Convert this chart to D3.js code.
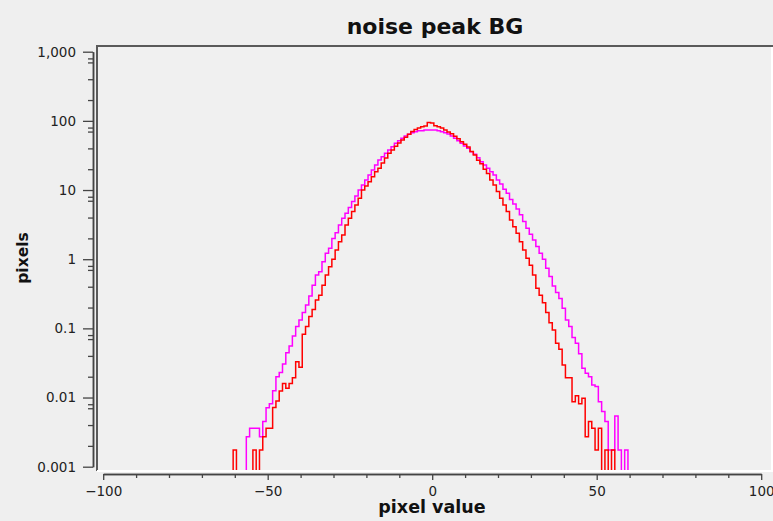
<!DOCTYPE html>
<html>
<head>
<meta charset="utf-8">
<script src="https://cdnjs.cloudflare.com/ajax/libs/d3/7.8.5/d3.min.js"></script>
<style>
body { margin: 0; background: #efefef; }
svg text { font-family: "DejaVu Sans", sans-serif; }
</style>
</head>
<body>
<svg id="chart" width="773" height="521"></svg>
<script>
// histogram bins, 1 unit wide, centred on -60 .. 60
var FirstBin = -60;

var RedCounts = [
    0.00175, 0, 0, 0, 0, 0, 0.00175, 0, 0.00175, 0.0027,
    0.0036, 0.0036, 0.0072, 0.0089, 0.0124, 0.016, 0.0136, 0.016, 0.0194, 0.033,
    0.0273, 0.082, 0.106, 0.148, 0.188, 0.257, 0.30, 0.42, 0.59, 0.78,
    1.0, 1.36, 1.79, 2.24, 3.12, 3.9, 4.9, 6.1, 7.6, 10.0,
    11.4, 13.2, 15.6, 18.4, 20.6, 24.5, 29, 34, 38, 43,
    48, 53, 58, 64, 70, 75, 79, 82, 84, 95,
    93, 85, 82, 79, 74, 69, 65, 60, 55, 50,
    46, 42, 36, 32, 27, 24, 20, 17.4, 14, 11.8,
    9.5, 7.6, 6.1, 4.9, 3.7, 2.95, 2.37, 1.79, 1.36, 1.03,
    0.82, 0.59, 0.38, 0.30, 0.235, 0.169, 0.121, 0.095, 0.061, 0.050,
    0.0295, 0.0194, 0.0194, 0.0087, 0.0106, 0.0081, 0.0098, 0.0027, 0.0045, 0.0036,
    0.00175, 0.0036, 0, 0.00175, 0, 0.00175, 0, 0, 0, 0, 0
];

var MagentaCounts = [
    0, 0, 0, 0, 0.0027, 0.0036, 0.0036, 0.0036, 0.0027, 0.0045,
    0.0071, 0.0081, 0.0125, 0.020, 0.0231, 0.0305, 0.0445, 0.0556, 0.0776, 0.106,
    0.132, 0.169, 0.218, 0.294, 0.42, 0.59, 0.66, 0.92, 1.22, 1.44,
    2.0, 2.42, 3.12, 3.9, 4.6, 5.6, 6.8, 8.2, 10, 11.8,
    14, 16.5, 19.5, 23, 27.2, 30.3, 34, 37.9, 42.4, 47.3,
    51.7, 55.9, 60.4, 63.8, 67.5, 69.8, 72.2, 72.2, 73.8, 73.8,
    73.8, 73.8, 72.2, 69.8, 67.5, 64.5, 60.4, 55.9, 51.7, 47.3,
    43.4, 40.1, 35.9, 32.8, 29.4, 25.7, 23, 20.6, 18.4, 16.5,
    14, 12.2, 10.3, 9.0, 7.3, 6.3, 5.3, 4.4, 3.5, 2.8,
    2.3, 1.9, 1.52, 1.22, 0.995, 0.74, 0.56, 0.41, 0.33, 0.27,
    0.195, 0.132, 0.106, 0.074, 0.061, 0.043, 0.0264, 0.0224, 0.020, 0.0152,
    0.0144, 0.0087, 0.0063, 0.0045, 0.00175, 0.00175, 0.0054, 0.00175, 0, 0.00175, 0
];

var XTicks = [-100, -50, 0, 50, 100];
var XMinorTicks = [-90, -80, -70, -60, -40, -30, -20, -10, 10, 20, 30, 40, 60, 70, 80, 90];
var YTicks = [0.001, 0.01, 0.1, 1, 10, 100, 1000];
var YTickLabels = ["0.001", "0.01", "0.1", "1", "10", "100", "1,000"];
var YMinorSteps = [2, 4, 7, 8];

var svg = d3.select("#chart");

var PlotLeft = 97, PlotTop = 46, PlotRight = 772, PlotBottom = 471;

var x = d3.scaleLinear().domain([-100, 100]).range([103.2, 761.2]);
var y = d3.scaleLog().domain([0.001, 1000]).range([466.7, 51.7]);

// plot area with sunken border
svg.append("rect")
    .attr("x", PlotLeft).attr("y", PlotTop)
    .attr("width", PlotRight - PlotLeft).attr("height", PlotBottom - PlotTop)
    .attr("fill", "#f0f0f0");

svg.append("clipPath").attr("id", "plotClip")
    .append("rect")
    .attr("x", PlotLeft).attr("y", PlotTop)
    .attr("width", PlotRight - PlotLeft).attr("height", PlotBottom - PlotTop);

function StepPoints(Counts) {
    var pts = [];
    for (var i = 0; i < Counts.length; i++) {
        var v = Counts[i] > 0 ? Counts[i] : 0.0001;
        if (i == 0) pts.push([FirstBin - 0.5, 0.0001]);
        pts.push([FirstBin + i - 0.5, v]);
    }
    pts.push([FirstBin + Counts.length - 0.5, Counts[Counts.length - 1] > 0 ? Counts[Counts.length - 1] : 0.0001]);
    return pts;
}

var stepLine = d3.line()
    .x(function(d) { return x(d[0]); })
    .y(function(d) { return y(d[1]); })
    .curve(d3.curveStepAfter);

var lines = svg.append("g").attr("clip-path", "url(#plotClip)");

lines.append("path")
    .attr("d", stepLine(StepPoints(MagentaCounts)))
    .attr("fill", "none")
    .attr("stroke", "#ff00ff")
    .attr("stroke-width", 1.5);

lines.append("path")
    .attr("d", stepLine(StepPoints(RedCounts)))
    .attr("fill", "none")
    .attr("stroke", "#ff0000")
    .attr("stroke-width", 1.5);

// border: dark top/left, light bottom/right
svg.append("line").attr("x1", PlotLeft - 1).attr("y1", PlotTop).attr("x2", 773).attr("y2", PlotTop)
    .attr("stroke", "#5a5a5a").attr("stroke-width", 2);
svg.append("line").attr("x1", PlotLeft).attr("y1", PlotTop).attr("x2", PlotLeft).attr("y2", PlotBottom)
    .attr("stroke", "#5a5a5a").attr("stroke-width", 2);
svg.append("line").attr("x1", PlotLeft).attr("y1", PlotBottom).attr("x2", 773).attr("y2", PlotBottom)
    .attr("stroke", "#ffffff").attr("stroke-width", 2);
svg.append("line").attr("x1", PlotRight).attr("y1", PlotTop + 1).attr("x2", PlotRight).attr("y2", PlotBottom)
    .attr("stroke", "#ffffff").attr("stroke-width", 2);

// y axis
var yMinor = [];
for (var k = 0; k < YTicks.length - 1; k++) {
    for (var m = 0; m < YMinorSteps.length; m++) {
        yMinor.push(YTicks[k] * YMinorSteps[m]);
    }
}

var yAxisG = svg.append("g").attr("transform", "translate(93,0)");
yAxisG.call(d3.axisLeft(y).tickValues(YTicks).tickSize(10).tickSizeOuter(0).tickPadding(7)
    .tickFormat(function(d, i) { return YTickLabels[i]; }));
yAxisG.append("g").call(d3.axisLeft(y).tickValues(yMinor).tickSize(5).tickSizeOuter(0).tickFormat(""));

// x axis
var xAxisG = svg.append("g").attr("transform", "translate(0,474)");
xAxisG.call(d3.axisBottom(x).tickValues(XTicks).tickSize(6).tickSizeOuter(0).tickPadding(6));
xAxisG.append("g").call(d3.axisBottom(x).tickValues(XMinorTicks).tickSize(4).tickSizeOuter(0).tickFormat(""));

svg.selectAll(".domain").attr("stroke", "#444").attr("stroke-width", 1.5);
svg.selectAll(".tick line").attr("stroke", "#444").attr("stroke-width", 1.3);
svg.selectAll(".tick text").attr("fill", "#222").style("font-size", "13.5px")
    .style("font-family", "'DejaVu Sans', sans-serif");

// titles
svg.append("text")
    .attr("x", 435).attr("y", 34)
    .attr("text-anchor", "middle")
    .style("font-size", "22px").style("font-weight", "bold")
    .attr("fill", "#111")
    .text("noise peak BG");

svg.append("text")
    .attr("x", 432).attr("y", 513)
    .attr("text-anchor", "middle")
    .style("font-size", "17.5px").style("font-weight", "bold")
    .attr("fill", "#111")
    .text("pixel value");

svg.append("text")
    .attr("transform", "translate(28,258) rotate(-90)")
    .attr("text-anchor", "middle")
    .style("font-size", "15.5px").style("font-weight", "bold")
    .attr("fill", "#111")
    .text("pixels");
</script>
</body>
</html>
